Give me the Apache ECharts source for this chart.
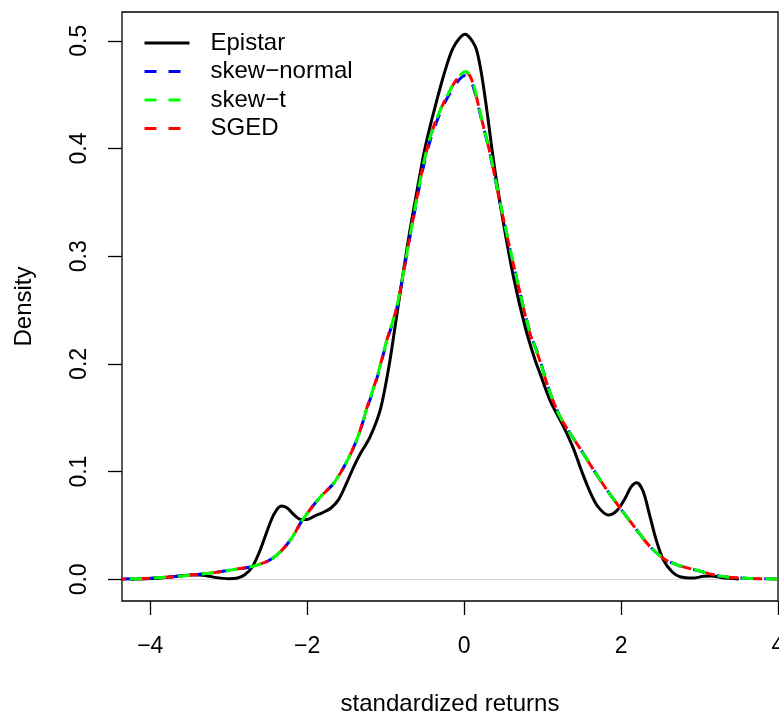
<!DOCTYPE html>
<html>
<head>
<meta charset="utf-8">
<script src="https://cdn.jsdelivr.net/npm/echarts@6/dist/echarts.min.js"></script>
<style>
  html, body { margin: 0; padding: 0; background: #fff; }
  #chart { width: 779px; height: 713px; }
</style>
</head>
<body>
<div id="chart"></div>
<script>
// Kernel density of the Epistar standardized returns
const epiX = [-4.25, -4.0, -3.8, -3.6, -3.45, -3.3, -3.15, -3.0, -2.9, -2.8, -2.7, -2.6, -2.5, -2.42, -2.33, -2.25, -2.17, -2.08, -2.0, -1.9, -1.8, -1.7, -1.6, -1.5, -1.41, -1.32, -1.2, -1.07, -0.96, -0.88, -0.83, -0.7, -0.56, -0.5, -0.39, -0.26, -0.136, 0.013, 0.14, 0.2, 0.25, 0.3, 0.35, 0.4, 0.5, 0.628, 0.777, 0.904, 0.968, 1.096, 1.265, 1.39, 1.5, 1.6, 1.7, 1.84, 1.95, 2.05, 2.13, 2.2, 2.28, 2.37, 2.45, 2.54, 2.65, 2.75, 2.92, 3.05, 3.15, 3.3, 3.5];
const epiY = [0.0002, 0.0008, 0.0018, 0.0033, 0.0042, 0.0036, 0.0016, 0.0006, 0.0010, 0.0040, 0.0115, 0.027, 0.047, 0.061, 0.068, 0.066, 0.060, 0.0555, 0.0555, 0.059, 0.062, 0.066, 0.074, 0.089, 0.104, 0.117, 0.132, 0.157, 0.197, 0.2345, 0.259, 0.320, 0.377, 0.400, 0.433, 0.468, 0.494, 0.506, 0.495, 0.478, 0.456, 0.430, 0.402, 0.376, 0.331, 0.281, 0.2345, 0.2036, 0.191, 0.166, 0.142, 0.122, 0.100, 0.082, 0.068, 0.0597, 0.064, 0.075, 0.086, 0.0897, 0.082, 0.058, 0.036, 0.018, 0.007, 0.0024, 0.0012, 0.0028, 0.003, 0.0015, 0.0004];

// Fitted densities evaluated on a common grid
const fitX = [-4.36, -4.0, -3.6, -3.2, -2.9, -2.7, -2.5, -2.35, -2.2, -2.07, -1.95, -1.83, -1.665, -1.49, -1.35, -1.24, -1.11, -0.985, -0.857, -0.7, -0.54, -0.45, -0.37, -0.27, -0.15, -0.05, 0.02, 0.1, 0.225, 0.33, 0.459, 0.586, 0.713, 0.84, 0.947, 1.096, 1.223, 1.35, 1.5, 1.65, 1.82, 1.99, 2.2, 2.37, 2.57, 2.75, 2.92, 3.26, 3.6, 4.0];
const skewNormalY = [0.0003, 0.001, 0.003, 0.0062, 0.0095, 0.012, 0.017, 0.025, 0.038, 0.054, 0.066, 0.0767, 0.089, 0.110, 0.133, 0.158, 0.187, 0.221, 0.252, 0.314, 0.376, 0.403, 0.421, 0.439, 0.455, 0.465, 0.468, 0.461, 0.426, 0.395, 0.349, 0.306, 0.2656, 0.229, 0.208, 0.173, 0.151, 0.1356, 0.119, 0.1015, 0.083, 0.066, 0.0458, 0.0303, 0.018, 0.0125, 0.0093, 0.003, 0.001, 0.0003];
const skewTY = [0.0003, 0.001, 0.003, 0.0062, 0.0095, 0.012, 0.017, 0.025, 0.038, 0.054, 0.066, 0.0767, 0.089, 0.110, 0.133, 0.159, 0.188, 0.222, 0.253, 0.315, 0.378, 0.406, 0.424, 0.441, 0.458, 0.468, 0.4715, 0.464, 0.427, 0.396, 0.350, 0.307, 0.266, 0.229, 0.207, 0.173, 0.151, 0.1356, 0.119, 0.1015, 0.083, 0.066, 0.0458, 0.0303, 0.018, 0.0125, 0.0093, 0.003, 0.001, 0.0003];
const sgedY = [0.0003, 0.001, 0.003, 0.0062, 0.0095, 0.012, 0.017, 0.025, 0.038, 0.054, 0.066, 0.0767, 0.089, 0.110, 0.133, 0.159, 0.188, 0.222, 0.253, 0.315, 0.378, 0.406, 0.424, 0.441, 0.458, 0.468, 0.471, 0.463, 0.4265, 0.3955, 0.349, 0.306, 0.2656, 0.228, 0.207, 0.1727, 0.151, 0.1356, 0.119, 0.1015, 0.083, 0.066, 0.0458, 0.0303, 0.018, 0.0125, 0.0093, 0.003, 0.001, 0.0003];

const xTicks = [-4, -2, 0, 2, 4];
const yTicks = [0, 0.1, 0.2, 0.3, 0.4, 0.5];
const seriesNames = ['Epistar', 'skew\u2212normal', 'skew\u2212t', 'SGED'];

const pairs = (xs, ys) => xs.map((x, i) => [x, ys[i]]);
const FONT = 'Liberation Sans, Arial, Helvetica, sans-serif';
const dash = [12, 12];

const chart = echarts.init(document.getElementById('chart'), null, { renderer: 'canvas' });

chart.setOption({
  animation: false,
  backgroundColor: '#fff',
  textStyle: { fontFamily: FONT },
  grid: {
    left: 122, top: 12, width: 656, height: 589,
    outerBoundsMode: 'none', containLabel: false,
    show: true, borderColor: '#000', borderWidth: 1.3, backgroundColor: 'transparent'
  },
  legend: {
    data: seriesNames,
    orient: 'vertical',
    left: 143, top: 31, padding: 0,
    itemWidth: 45, itemHeight: 14, itemGap: 4.5,
    itemStyle: { opacity: 0 },
    lineStyle: { width: 3, dashOffset: 0 },
    textStyle: { fontFamily: FONT, fontSize: 24, color: '#000', padding: [0, 0, 0, 16] }
  },
  xAxis: {
    type: 'value', min: -4.36, max: 4.0,
    name: 'standardized returns', nameLocation: 'middle', nameGap: 91,
    nameTextStyle: { fontFamily: FONT, fontSize: 24, color: '#000' },
    axisLine: { show: false, onZero: false },
    axisTick: { show: true, customValues: xTicks, length: 14, lineStyle: { color: '#000', width: 1.3 } },
    axisLabel: {
      customValues: xTicks, margin: 34, fontFamily: FONT, fontSize: 23, color: '#000',
      formatter: v => (v < 0 ? '\u2212' + Math.abs(v) : String(v))
    },
    splitLine: { show: false }
  },
  yAxis: {
    type: 'value', min: -0.0201, max: 0.5267,
    name: 'Density', nameLocation: 'middle', nameGap: 86, nameRotate: 90,
    nameTextStyle: { fontFamily: FONT, fontSize: 24, color: '#000' },
    axisLine: { show: false, onZero: false },
    axisTick: { show: true, customValues: yTicks, length: 14, lineStyle: { color: '#000', width: 1.3 } },
    axisLabel: {
      customValues: yTicks, rotate: 90, margin: 31, fontFamily: FONT, fontSize: 23, color: '#000',
      formatter: v => v.toFixed(1)
    },
    splitLine: { show: false }
  },
  series: [
    {
      name: seriesNames[0], type: 'line', data: pairs(epiX, epiY),
      symbol: 'none', smooth: 0.3, z: 3,
      lineStyle: { color: '#000', width: 3 },
      itemStyle: { color: '#000' },
      markLine: {
        silent: true, symbol: 'none', z: 1,
        label: { show: false },
        lineStyle: { color: '#d6d6d6', width: 1, type: 'solid' },
        data: [{ yAxis: 0 }]
      }
    },
    {
      name: seriesNames[1], type: 'line', data: pairs(fitX, skewNormalY),
      symbol: 'none', smooth: 0.3, z: 4,
      lineStyle: { color: '#0000ff', width: 3, type: dash, dashOffset: 0 },
      itemStyle: { color: '#0000ff' }
    },
    {
      name: seriesNames[3], type: 'line', data: pairs(fitX, sgedY),
      symbol: 'none', smooth: 0.3, z: 5,
      lineStyle: { color: '#ff0000', width: 3, type: dash, dashOffset: 8 },
      itemStyle: { color: '#ff0000' }
    },
    {
      name: seriesNames[2], type: 'line', data: pairs(fitX, skewTY),
      symbol: 'none', smooth: 0.3, z: 6,
      lineStyle: { color: '#00ff00', width: 3, type: dash, dashOffset: 16 },
      itemStyle: { color: '#00ff00' }
    }
  ]
});
</script>
</body>
</html>
